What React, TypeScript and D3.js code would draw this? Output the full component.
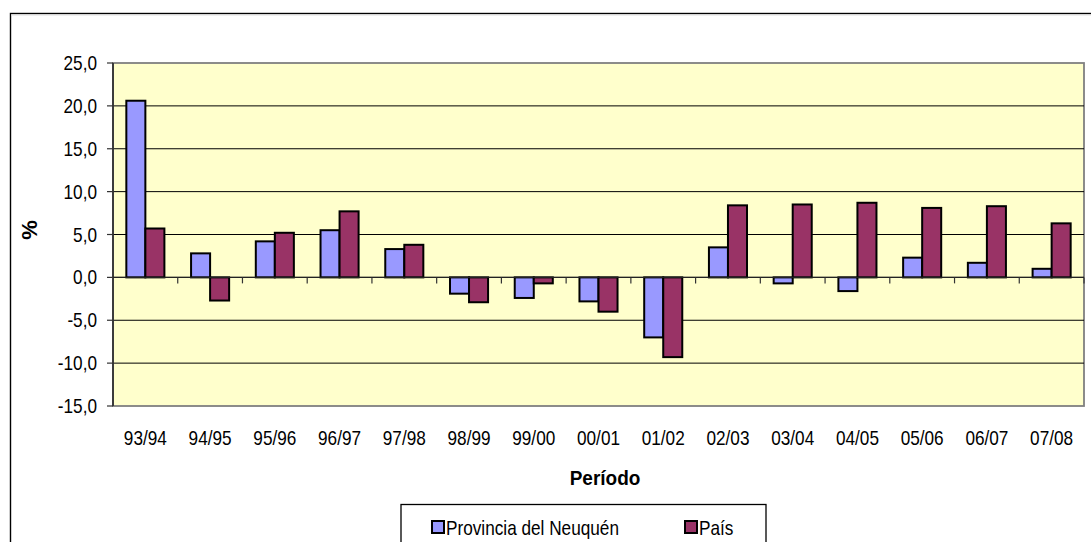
import React, { useEffect } from 'react';
import * as d3 from 'd3';

const periods = [
  '93/94', '94/95', '95/96', '96/97', '97/98', '98/99', '99/00', '00/01',
  '01/02', '02/03', '03/04', '04/05', '05/06', '06/07', '07/08',
];
const neuquen = [20.6, 2.8, 4.2, 5.5, 3.3, -1.9, -2.4, -2.8, -7.0, 3.5, -0.7, -1.6, 2.3, 1.7, 1.0];
const pais = [5.7, -2.7, 5.2, 7.7, 3.8, -2.9, -0.7, -4.0, -9.3, 8.4, 8.5, 8.7, 8.1, 8.3, 6.3];
const seriesNames = ['Provincia del Neuquén', 'País'];
const seriesColors = ['#9999FF', '#993366'];
const yTicks = [-15, -10, -5, 0, 5, 10, 15, 20, 25];

const W = 1091;
const H = 542;
const plot = { left: 113, right: 1084, top: 63, bottom: 406 };
const FONT = '"Liberation Sans", Arial, sans-serif';
const SQ = 0.86; // horizontal squeeze of the Excel text

const fmt = (v: number) => d3.format('.1f')(v).replace('.', ',').replace('\u2212', '-');

const App: React.FC = () => {
  useEffect(() => {
    document.body.style.margin = '0';
    document.body.style.overflow = 'hidden';
  }, []);

  const x0 = d3.scaleBand<string>().domain(periods).range([plot.left, plot.right]);
  const bw = x0.bandwidth();
  const x1 = d3
    .scaleBand<number>()
    .domain([0, 1])
    .range([bw * 0.206, bw * 0.794]);
  const y = d3.scaleLinear().domain([-15, 25]).range([plot.bottom, plot.top]);
  const y0 = y(0);
  const seriesData = [neuquen, pais];

  return (
    <svg width={W} height={H} style={{ display: 'block', position: 'absolute', left: 0, top: 0 }} fontFamily={FONT}>
      <rect width={W} height={H} fill="#fff" />
      {/* chart frame */}
      <rect x={10.5} y={13.5} width={W + 20} height={H + 20} fill="none" stroke="#000" strokeWidth={1.4} />
      <line x1={11} x2={W} y1={15} y2={15} stroke="#ddd" strokeWidth={1} />

      {/* plot area */}
      <rect
        x={plot.left}
        y={plot.top}
        width={plot.right - plot.left}
        height={plot.bottom - plot.top}
        fill="#FFFFCC"
        stroke="#808080"
        strokeWidth={1.8}
      />
      {yTicks
        .filter(t => t !== 25 && t !== -15)
        .map(t => (
          <line key={t} x1={plot.left} x2={plot.right} y1={y(t)} y2={y(t)} stroke="#000" strokeWidth={1} />
        ))}

      {/* y axis */}
      <line x1={plot.left} x2={plot.left} y1={plot.top} y2={plot.bottom} stroke="#333" strokeWidth={1.8} />
      {yTicks.map(t => (
        <g key={t}>
          <line x1={plot.left - 6} x2={plot.left} y1={y(t)} y2={y(t)} stroke="#333" strokeWidth={1.2} />
          <text
            transform={`translate(97,${y(t) + 7}) scale(${SQ},1)`}
            textAnchor="end"
            fontSize={20}
            fill="#000"
          >
            {fmt(t)}
          </text>
        </g>
      ))}
      <text
        transform={`translate(37,230) rotate(-90)`}
        textAnchor="middle"
        fontSize={22}
        fontWeight="bold"
        fill="#000"
      >
        %
      </text>

      {/* bars */}
      {periods.map((p, i) => (
        <g key={p} transform={`translate(${x0(p)},0)`}>
          {seriesData.map((s, k) => {
            const v = s[i];
            const yy = y(Math.max(0, v));
            const hh = Math.abs(y(v) - y0);
            return (
              <rect
                key={k}
                x={x1(k)}
                y={yy}
                width={x1.bandwidth()}
                height={hh}
                fill={seriesColors[k]}
                stroke="#000"
                strokeWidth={2}
              />
            );
          })}
        </g>
      ))}

      {/* x axis at zero */}
      <line x1={plot.left} x2={plot.right} y1={y0} y2={y0} stroke="#222" strokeWidth={1.3} />
      {periods.map((p, i) => (
        <line
          key={'t' + p}
          x1={plot.left + bw * (i + 1)}
          x2={plot.left + bw * (i + 1)}
          y1={y0}
          y2={y0 + 6}
          stroke="#333"
          strokeWidth={1.2}
        />
      ))}
      {periods.map(p => (
        <text
          key={'l' + p}
          transform={`translate(${(x0(p) as number) + bw / 2},445) scale(${SQ},1)`}
          textAnchor="middle"
          fontSize={20}
          fill="#000"
        >
          {p}
        </text>
      ))}
      <text
        transform={`translate(605,485) scale(0.95,1)`}
        textAnchor="middle"
        fontSize={20}
        fontWeight="bold"
        fill="#000"
      >
        Período
      </text>

      {/* legend */}
      <rect x={401} y={504.5} width={365} height={60} fill="#fff" stroke="#000" strokeWidth={1.3} />
      {seriesNames.map((n, k) => {
        const lx = k === 0 ? 432 : 685;
        return (
          <g key={n}>
            <rect x={lx} y={521} width={12} height={12} fill={seriesColors[k]} stroke="#000" strokeWidth={2} />
            <text transform={`translate(${lx + 14},535) scale(${SQ},1)`} fontSize={20} fill="#000">
              {n}
            </text>
          </g>
        );
      })}
    </svg>
  );
};

export default App;
